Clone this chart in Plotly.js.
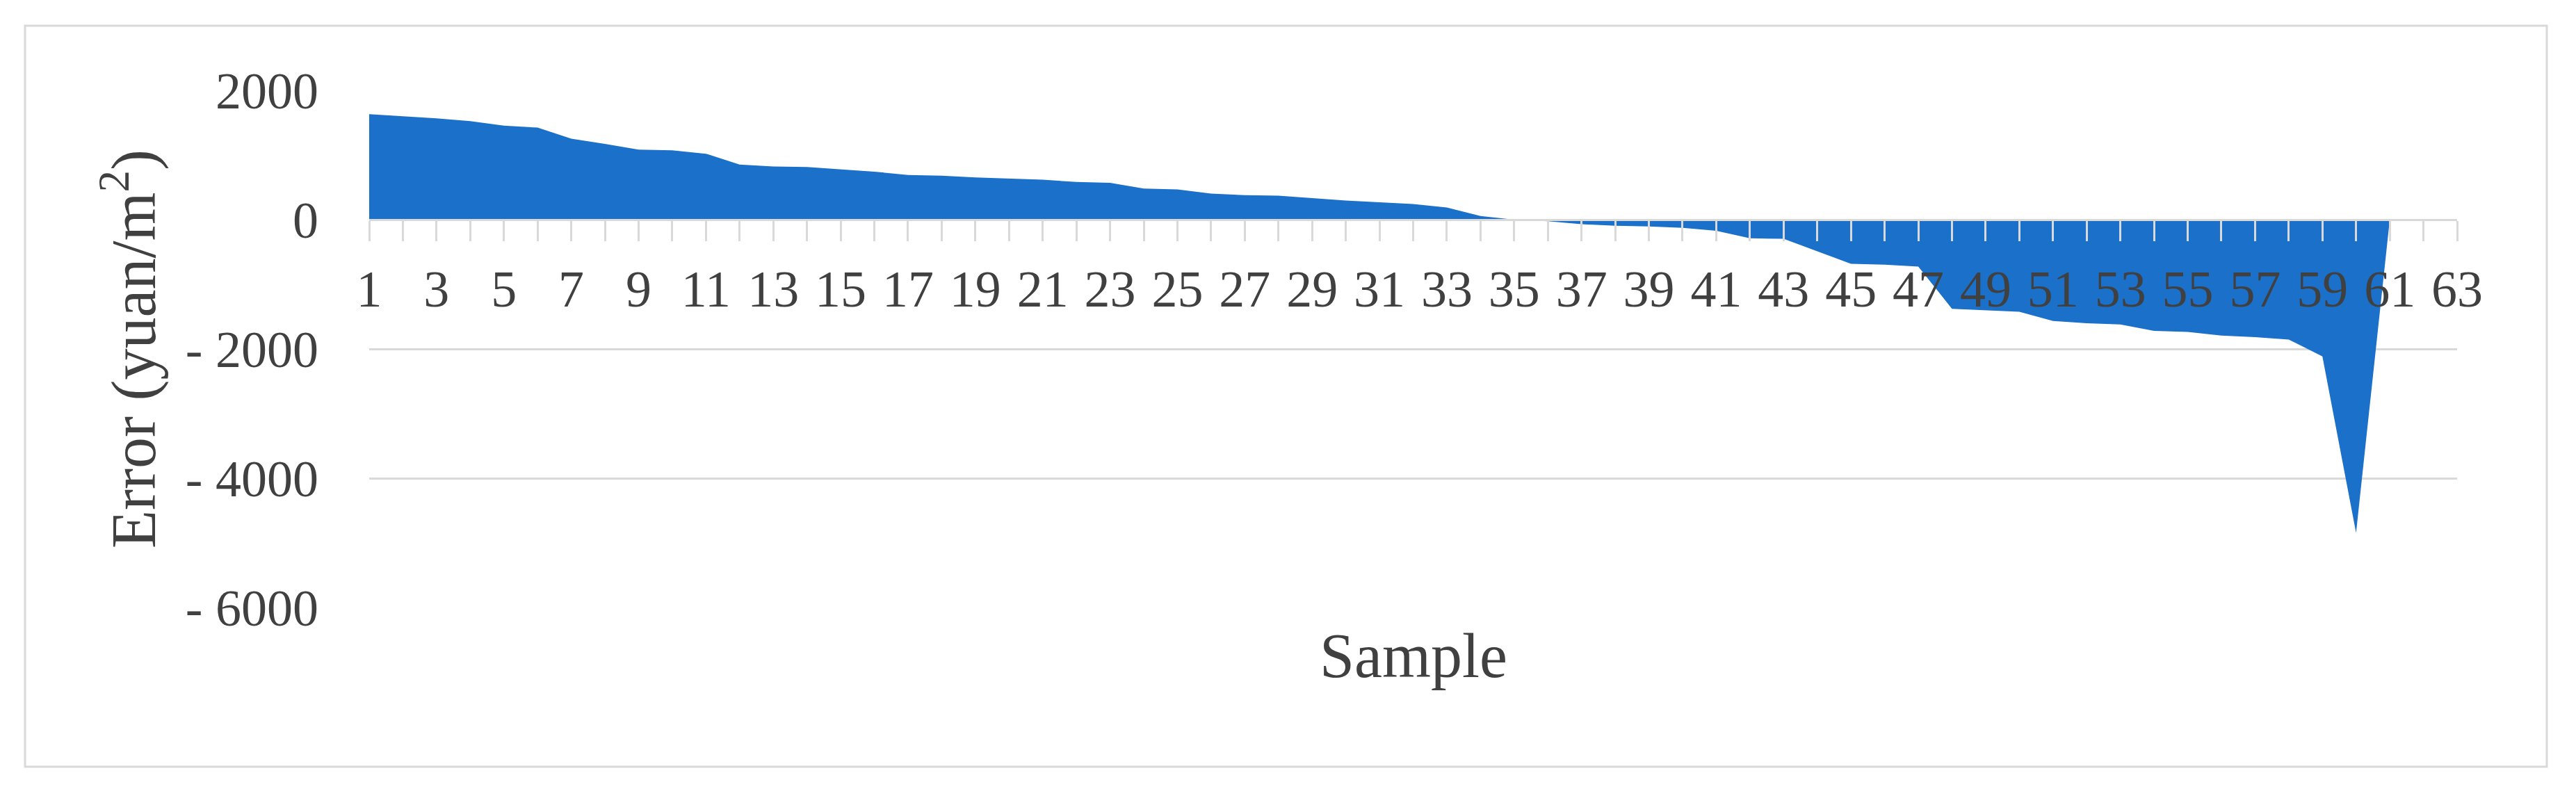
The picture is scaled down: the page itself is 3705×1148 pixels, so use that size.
<!DOCTYPE html>
<html>
<head>
<meta charset="utf-8">
<script src="https://cdn.plot.ly/plotly-3.0.1.min.js"></script>
<style>
  html, body { margin: 0; padding: 0; background: #ffffff; }
  #plot { width: 3705px; height: 1148px; }
</style>
</head>
<body>
<div id="plot"></div>
<script>
// sample numbers (x) and prediction error in yuan/m2 (y)
var samples = [];
for (var i = 1; i <= 61; i++) samples.push(i);

var errors = [
  1631, 1603, 1567, 1524, 1453, 1424, 1252, 1173, 1083, 1073,
  1020, 851, 822, 815, 779, 743, 690, 679, 654, 636,
  618, 582, 571, 482, 467, 403, 378, 371, 331, 296,
  269, 242, 188, 56, 0, -25, -70, -95, -105, -125,
  -172, -288, -296, -493, -682, -697, -725, -1378, -1399, -1424,
  -1567, -1603, -1621, -1721, -1736, -1793, -1818, -1854, -2115, -4845,
  0
];

// y axis labels as in the original ("- 2000" style)
var yTickVals = [2000, 0, -2000, -4000, -6000];
var yTickText = ["2000", "0", "- 2000", "- 4000", "- 6000"];

var W = 3705, H = 1148;
var m = {l: 531, r: 171, t: 130, b: 274};
var pw = W - m.l - m.r, ph = H - m.t - m.b;

// outer frame in pixels, converted to paper coords
function px(x) { return (x - m.l) / pw; }
function py(y) { return (H - m.b - y) / ph; }

var grey = "#d9d9d9";
var textCol = "#404040";
var font = "Liberation Serif, Times New Roman, serif";

var trace = {
  x: samples,
  y: errors,
  type: "scatter",
  mode: "lines",
  fill: "tozeroy",
  fillcolor: "#1b70c9",
  line: {width: 0, color: "#1b70c9"},
  hoverinfo: "x+y"
};

var layout = {
  width: W,
  height: H,
  margin: m,
  paper_bgcolor: "#ffffff",
  plot_bgcolor: "#ffffff",
  showlegend: false,
  font: {family: font, color: textCol, size: 74},
  xaxis: {
    range: [1, 63],
    anchor: "free",
    position: 0.75,
    tick0: 1,
    dtick: 2,
    tickangle: 0,
    ticks: "outside",
    ticklen: 29,
    tickwidth: 3,
    tickcolor: grey,
    minor: {dtick: 1, ticks: "outside", ticklen: 29, tickwidth: 3, tickcolor: grey},
    ticklabelstandoff: 5,
    showline: true,
    linecolor: grey,
    linewidth: 3,
    showgrid: false,
    zeroline: false,
    tickfont: {family: font, size: 74, color: textCol}
  },
  yaxis: {
    range: [-6000, 2000],
    tickmode: "array",
    tickvals: yTickVals,
    ticktext: yTickText,
    ticks: "",
    ticklabelstandoff: 72,
    showline: false,
    showgrid: true,
    gridcolor: grey,
    gridwidth: 3,
    zeroline: false,
    tickfont: {family: font, size: 74, color: textCol},
    title: {
      text: "Error (yuan/m<sup>2</sup>)",
      font: {family: font, size: 90, color: textCol},
      standoff: 13
    }
  },
  annotations: [{
    text: "Sample",
    xref: "paper", yref: "paper",
    x: 0.5, y: py(944),
    xanchor: "center", yanchor: "middle",
    showarrow: false,
    font: {family: font, size: 90, color: textCol}
  }],
  shapes: [{
    type: "rect",
    xref: "paper", yref: "paper",
    x0: px(36), x1: px(3663),
    y0: py(1103), y1: py(37),
    line: {color: grey, width: 3},
    layer: "below"
  }]
};

Plotly.newPlot("plot", [trace], layout, {staticPlot: true, displayModeBar: false});
</script>
</body>
</html>
